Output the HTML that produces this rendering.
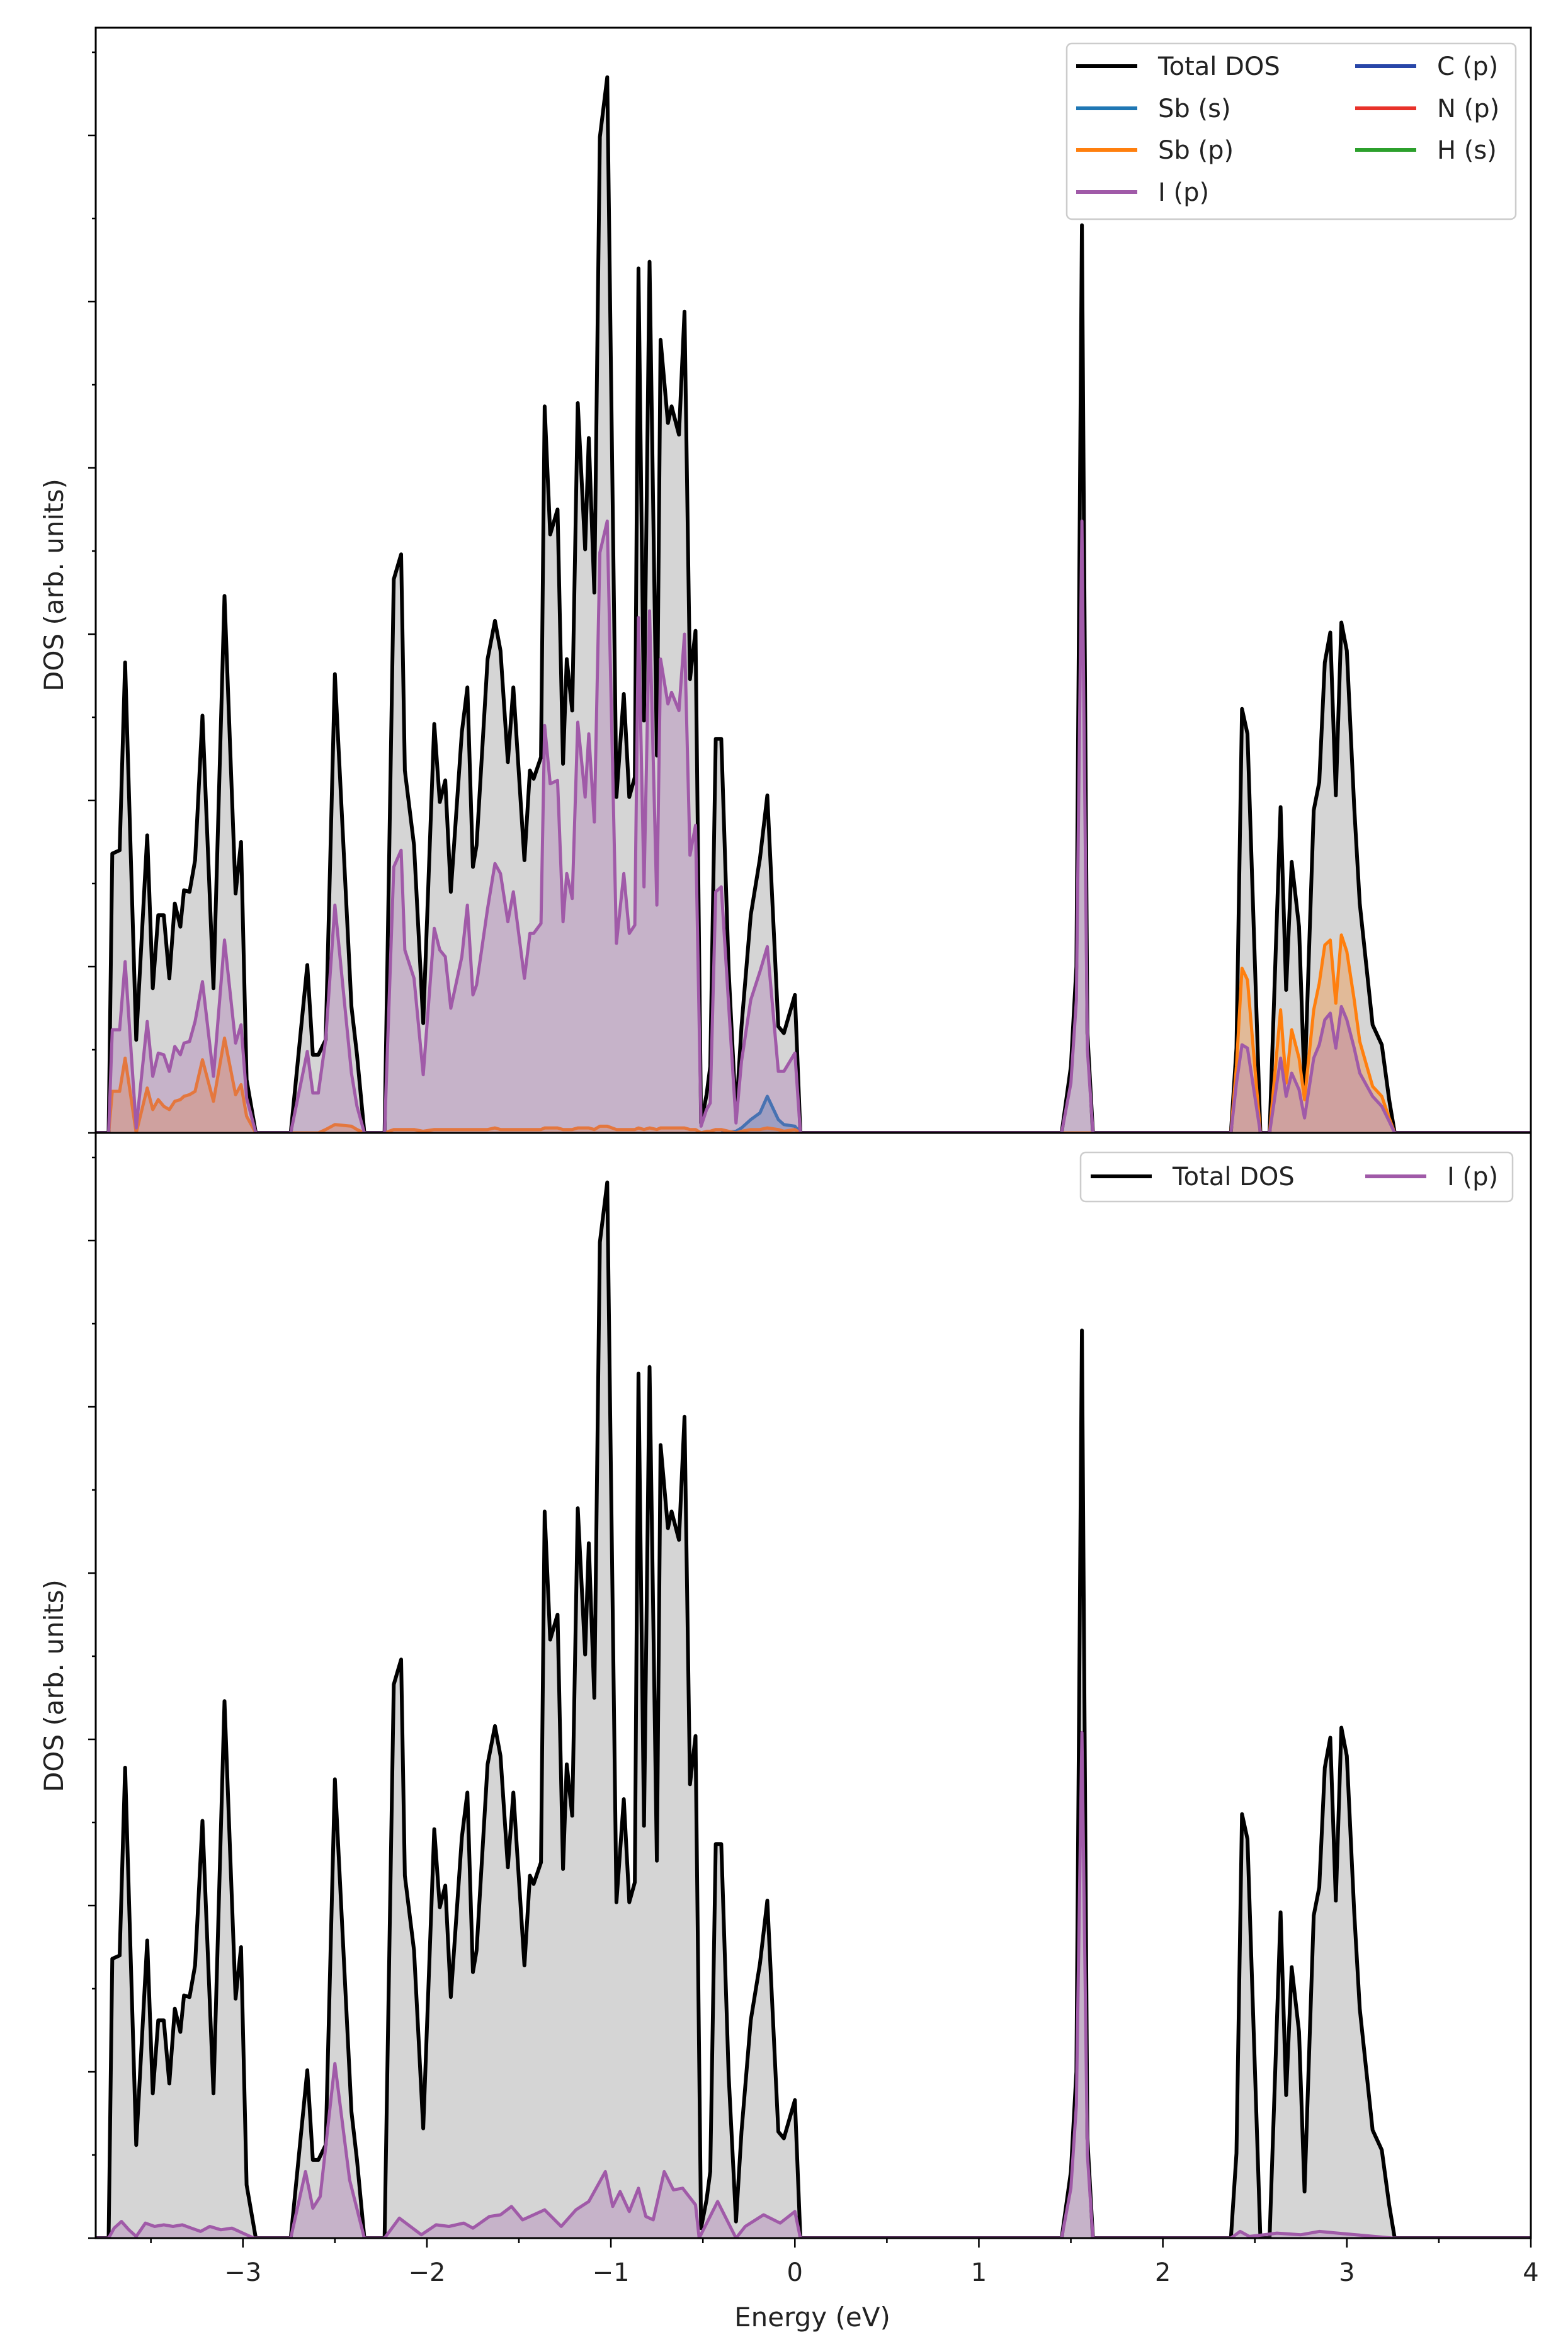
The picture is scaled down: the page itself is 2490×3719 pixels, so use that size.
<!DOCTYPE html>
<html><head><meta charset="utf-8"><style>
html,body{margin:0;padding:0;background:#fff;}
svg{display:block;}
text{font-family:"DejaVu Sans","Liberation Sans",sans-serif;fill:#222;}
</style></head><body>
<svg id="chart" width="2490" height="3719" viewBox="0 0 2490 3719" xmlns="http://www.w3.org/2000/svg">
<rect x="0" y="0" width="2490" height="3719" fill="#fff"/>
<g id="top"></g>
<g id="bot"></g>
<g id="axes"></g>
</svg>
<script>
const eTotal=[-3.80,-3.73,-3.71,-3.67,-3.64,-3.58,-3.52,-3.49,-3.46,-3.43,-3.40,-3.37,-3.34,-3.32,-3.29,-3.26,-3.22,-3.16,-3.10,-3.04,-3.01,-2.98,-2.93,
-2.74,-2.65,-2.62,-2.59,-2.55,-2.50,-2.41,-2.38,-2.34,
-2.23,-2.18,-2.14,-2.12,-2.07,-2.02,-1.96,-1.93,-1.90,-1.87,-1.81,-1.78,-1.75,-1.73,-1.67,-1.63,-1.60,-1.56,-1.53,-1.47,-1.44,-1.42,-1.38,-1.36,-1.33,-1.29,-1.26,-1.24,-1.21,-1.18,-1.14,-1.12,-1.09,-1.06,-1.02,-0.97,-0.93,-0.90,-0.87,-0.85,-0.82,-0.79,-0.75,-0.73,-0.69,-0.67,-0.63,-0.60,-0.57,-0.54,-0.51,-0.48,-0.46,-0.43,-0.40,-0.36,-0.32,-0.29,-0.24,-0.19,-0.15,-0.09,-0.06,0.00,0.03,
1.45,1.50,1.53,1.56,1.59,1.62,
2.37,2.40,2.43,2.46,2.53,2.58,2.64,2.67,2.70,2.74,2.77,2.82,2.85,2.88,2.91,2.94,2.97,3.00,3.04,3.07,3.14,3.19,3.23,3.26,
4.00];
const dosTotal=[0,0,1.68,1.70,2.83,0.56,1.79,0.87,1.31,1.31,0.93,1.38,1.24,1.46,1.45,1.64,2.51,0.87,3.23,1.44,1.75,0.32,0,
0,1.01,0.47,0.47,0.56,2.76,0.76,0.47,0,
0,3.33,3.48,2.18,1.73,0.66,2.46,1.99,2.12,1.45,2.41,2.68,1.60,1.73,2.85,3.08,2.90,2.23,2.68,1.64,2.18,2.13,2.26,4.37,3.60,3.75,2.22,2.85,2.54,4.39,3.51,4.18,3.25,5.99,6.35,2.02,2.64,2.02,2.14,5.20,2.48,5.24,2.27,4.77,4.27,4.37,4.20,4.94,2.73,3.02,0.06,0.23,0.40,2.37,2.37,0.98,0.10,0.64,1.31,1.65,2.03,0.64,0.60,0.83,0,
0,0.4,1.0,5.46,0.6,0,
0,0.51,2.55,2.40,0,0,1.96,0.86,1.63,1.24,0.28,1.94,2.11,2.83,3.01,2.03,3.07,2.90,1.96,1.38,0.65,0.53,0.20,0,
0];
const ipTop=[0,0,0.62,0.62,1.03,0.03,0.67,0.34,0.48,0.47,0.37,0.52,0.47,0.54,0.55,0.67,0.91,0.34,1.16,0.54,0.65,0.21,0,
0,0.49,0.24,0.24,0.56,1.37,0.36,0.16,0,
0,1.60,1.70,1.10,0.93,0.35,1.23,1.10,1.06,0.75,1.06,1.37,0.83,0.89,1.35,1.62,1.56,1.27,1.45,0.93,1.20,1.20,1.26,2.45,2.10,2.12,1.27,1.56,1.41,2.47,2.02,2.40,1.87,3.49,3.68,1.14,1.56,1.20,1.25,3.10,1.48,3.14,1.37,2.85,2.58,2.65,2.54,3.00,1.67,1.85,0.04,0.14,0.18,1.45,1.48,0.77,0.06,0.43,0.80,0.97,1.12,0.37,0.37,0.48,0,
0,0.3,0.8,3.68,0.5,0,
0,0.30,0.53,0.51,0,0,0.45,0.22,0.36,0.26,0.09,0.45,0.53,0.68,0.72,0.51,0.76,0.68,0.51,0.36,0.22,0.16,0.07,0,
0];
const sbpTop=[0,0,0.25,0.25,0.45,0,0.27,0.14,0.20,0.16,0.14,0.19,0.20,0.22,0.23,0.25,0.44,0.19,0.57,0.23,0.29,0.10,0,
0,0,0,0,0.02,0.05,0.04,0.02,0,
0,0.02,0.02,0.02,0.02,0.01,0.02,0.02,0.02,0.02,0.02,0.02,0.02,0.02,0.02,0.03,0.02,0.02,0.02,0.02,0.02,0.02,0.02,0.03,0.03,0.03,0.02,0.02,0.02,0.03,0.03,0.03,0.02,0.04,0.04,0.02,0.02,0.02,0.02,0.03,0.02,0.03,0.02,0.03,0.03,0.03,0.03,0.03,0.02,0.02,0,0.01,0.01,0.02,0.02,0.01,0,0.01,0.02,0.02,0.03,0.02,0.01,0.02,0,
0,0,0,0,0,0,
0,0.40,0.99,0.92,0,0,0.74,0.30,0.62,0.45,0.20,0.74,0.90,1.13,1.16,0.78,1.19,1.09,0.80,0.55,0.28,0.22,0.09,0,
0];
const sbsEnergy=[-0.40,-0.32,-0.29,-0.24,-0.19,-0.15,-0.09,-0.06,0.00,0.03];
const sbsTop=[0,0.01,0.03,0.08,0.12,0.22,0.08,0.05,0.04,0];
const eIpBottom=[-3.80,-3.73,-3.70,-3.66,-3.62,-3.58,-3.53,-3.48,-3.43,-3.38,-3.33,-3.28,-3.23,-3.18,-3.12,-3.06,-3.00,-2.94,
-2.74,-2.66,-2.62,-2.58,-2.50,-2.42,-2.34,
-2.23,-2.15,-2.03,-1.95,-1.88,-1.80,-1.75,-1.66,-1.60,-1.54,-1.48,-1.36,-1.27,-1.19,-1.12,-1.03,-0.99,-0.95,-0.90,-0.85,-0.81,-0.77,-0.71,-0.66,-0.61,-0.54,-0.52,-0.42,-0.32,-0.27,-0.17,-0.08,0.00,0.03,
1.45,1.50,1.53,1.56,1.59,1.62,
2.37,2.42,2.47,2.55,2.62,2.75,2.85,2.95,3.05,3.15,3.25,
4.00];
const ipBottom=[0,0,0.06,0.10,0.05,0.01,0.09,0.07,0.08,0.07,0.08,0.06,0.04,0.07,0.05,0.06,0.03,0,
0,0.40,0.18,0.25,1.05,0.35,0,
0,0.12,0.02,0.08,0.07,0.09,0.06,0.13,0.14,0.19,0.11,0.17,0.07,0.17,0.22,0.40,0.19,0.28,0.16,0.30,0.13,0.11,0.40,0.29,0.30,0.20,0.0,0.22,0.0,0.07,0.14,0.09,0.16,0,
0,0.3,0.8,3.04,0.5,0,
0,0.04,0.01,0.02,0.03,0.02,0.04,0.03,0.02,0.01,0,
0];
const xTicks=[-3,-2,-1,0,1,2,3,4];
const xTickLabels=["\u22123","\u22122","\u22121","0","1","2","3","4"];

const NS="http://www.w3.org/2000/svg";
const X0=152,X1=2431,EMIN=-3.8,EMAX=4.0,UNIT=264;
const TOP0=44,MID=1799,BOT=3554;
function xs(e){return X0+(e-EMIN)/(EMAX-EMIN)*(X1-X0);}
function ysTop(v){return MID-v*UNIT;}
function ysBot(v){return BOT-v*UNIT;}
function mk(tag,attrs,parent){const el=document.createElementNS(NS,tag);for(const k in attrs)el.setAttribute(k,attrs[k]);parent.appendChild(el);return el;}
function pts(E,V,ys){const n=Math.min(E.length,V.length);let s=[];for(let i=0;i<n;i++)s.push(xs(E[i]).toFixed(1)+","+ys(V[i]).toFixed(1));return s;}
function series(g,E,V,ys,color,fill,fop,lw,name){
  const p=pts(E,V,ys);const n=Math.min(E.length,V.length);
  const base0=xs(E[0]).toFixed(1)+","+ys(0).toFixed(1), base1=xs(E[n-1]).toFixed(1)+","+ys(0).toFixed(1);
  const f=mk('polygon',{points:[base0].concat(p,[base1]).join(' '),fill:fill,'fill-opacity':fop,stroke:'none'},g);
  
  
  const l=mk('polyline',{points:p.join(' '),fill:'none',stroke:color,'stroke-width':lw,'stroke-linejoin':'round'},g);
  
  
}
const gt=document.getElementById('top'),gb=document.getElementById('bot'),ga=document.getElementById('axes');
const cp=mk('clipPath',{id:'cT'},gt);mk('rect',{x:X0,y:TOP0,width:X1-X0,height:MID-TOP0},cp);
const cp2=mk('clipPath',{id:'cB'},gb);mk('rect',{x:X0,y:MID,width:X1-X0,height:BOT-MID},cp2);
const gt2=mk('g',{'clip-path':'url(#cT)'},gt);const gb2=mk('g',{'clip-path':'url(#cB)'},gb);
series(gt2,eTotal,dosTotal,ysTop,'#000','#d5d5d5',1,6,'total-dos-top');
series(gt2,sbsEnergy,sbsTop,ysTop,'#1f77b4','#1f77b4',0.3,5,'sb-s-top');
series(gt2,eTotal,sbpTop,ysTop,'#ff7f0e','#ff7f0e',0.3,5,'sb-p-top');
series(gt2,eTotal,ipTop,ysTop,'#a05aa8','#a768b0',0.3,5,'i-p-top');
series(gb2,eTotal,dosTotal,ysBot,'#000','#d5d5d5',1,6,'total-dos-bottom');
series(gb2,eIpBottom,ipBottom,ysBot,'#a05aa8','#a768b0',0.3,5,'i-p-bottom');
mk('rect',{x:X0,y:TOP0,width:X1-X0,height:MID-TOP0,fill:'none',stroke:'#000','stroke-width':3},ga);
mk('rect',{x:X0,y:MID,width:X1-X0,height:BOT-MID,fill:'none',stroke:'#000','stroke-width':3},ga);
for(let k=0;k<=13;k++){
  const v=k*0.5,len=(k%2==0)?12:6;
  [[ysTop(v),TOP0],[ysBot(v),MID]].forEach(([y,lim])=>{if(y>lim+2)mk('line',{x1:X0-len,x2:X0,y1:y,y2:y,stroke:'#000','stroke-width':2.5},ga);});
}
for(let e=-3.5;e<=4.001;e+=0.5){const major=Math.abs(e-Math.round(e))<1e-6;mk('line',{x1:xs(e),x2:xs(e),y1:BOT,y2:BOT+(major?15:8),stroke:'#000','stroke-width':2.5},ga);}
xTicks.forEach((t,i)=>{const tx=mk('text',{x:xs(t),y:3622,'font-size':40,'text-anchor':'middle'},ga);tx.textContent=xTickLabels[i];
  
  });
const xl=mk('text',{x:1290,y:3694,'font-size':42,'text-anchor':'middle'},ga);xl.textContent='Energy (eV)';


[929,2677].forEach((cy,i)=>{const t=mk('text',{x:0,y:0,'font-size':42,'text-anchor':'middle',transform:'translate(100,'+cy+') rotate(-90)'},ga);t.textContent='DOS (arb. units)';
  
  });
function legend(box,items){
  const g=mk('g',{},ga);
  
  
  mk('rect',{x:box.x,y:box.y,width:box.w,height:box.h,rx:8,fill:'#fff','fill-opacity':0.85,stroke:'#ccc','stroke-width':2.5},g);
  items.forEach(it=>{
    mk('line',{x1:it.lx,x2:it.lx+97,y1:it.y,y2:it.y,stroke:it.c,'stroke-width':6},g);
    const t=mk('text',{x:it.lx+130,y:it.y+14,'font-size':40},g);t.textContent=it.t;
    
    
  });
}
legend({x:1694,y:69,w:713,h:279,name:'legend-top'},[
 {lx:1709,y:105,c:'#000',t:'Total DOS'},{lx:1709,y:172,c:'#1f77b4',t:'Sb (s)'},{lx:1709,y:238,c:'#ff7f0e',t:'Sb (p)'},{lx:1709,y:305,c:'#a05aa8',t:'I (p)'},
 {lx:2152,y:105,c:'#2846a8',t:'C (p)'},{lx:2152,y:172,c:'#e8322a',t:'N (p)'},{lx:2152,y:238,c:'#2ca02c',t:'H (s)'}]);
legend({x:1716,y:1830,w:686,h:78,name:'legend-bottom'},[
 {lx:1732,y:1868,c:'#000',t:'Total DOS'},{lx:2168,y:1868,c:'#a05aa8',t:'I (p)'}]);
</script>
</body></html>
